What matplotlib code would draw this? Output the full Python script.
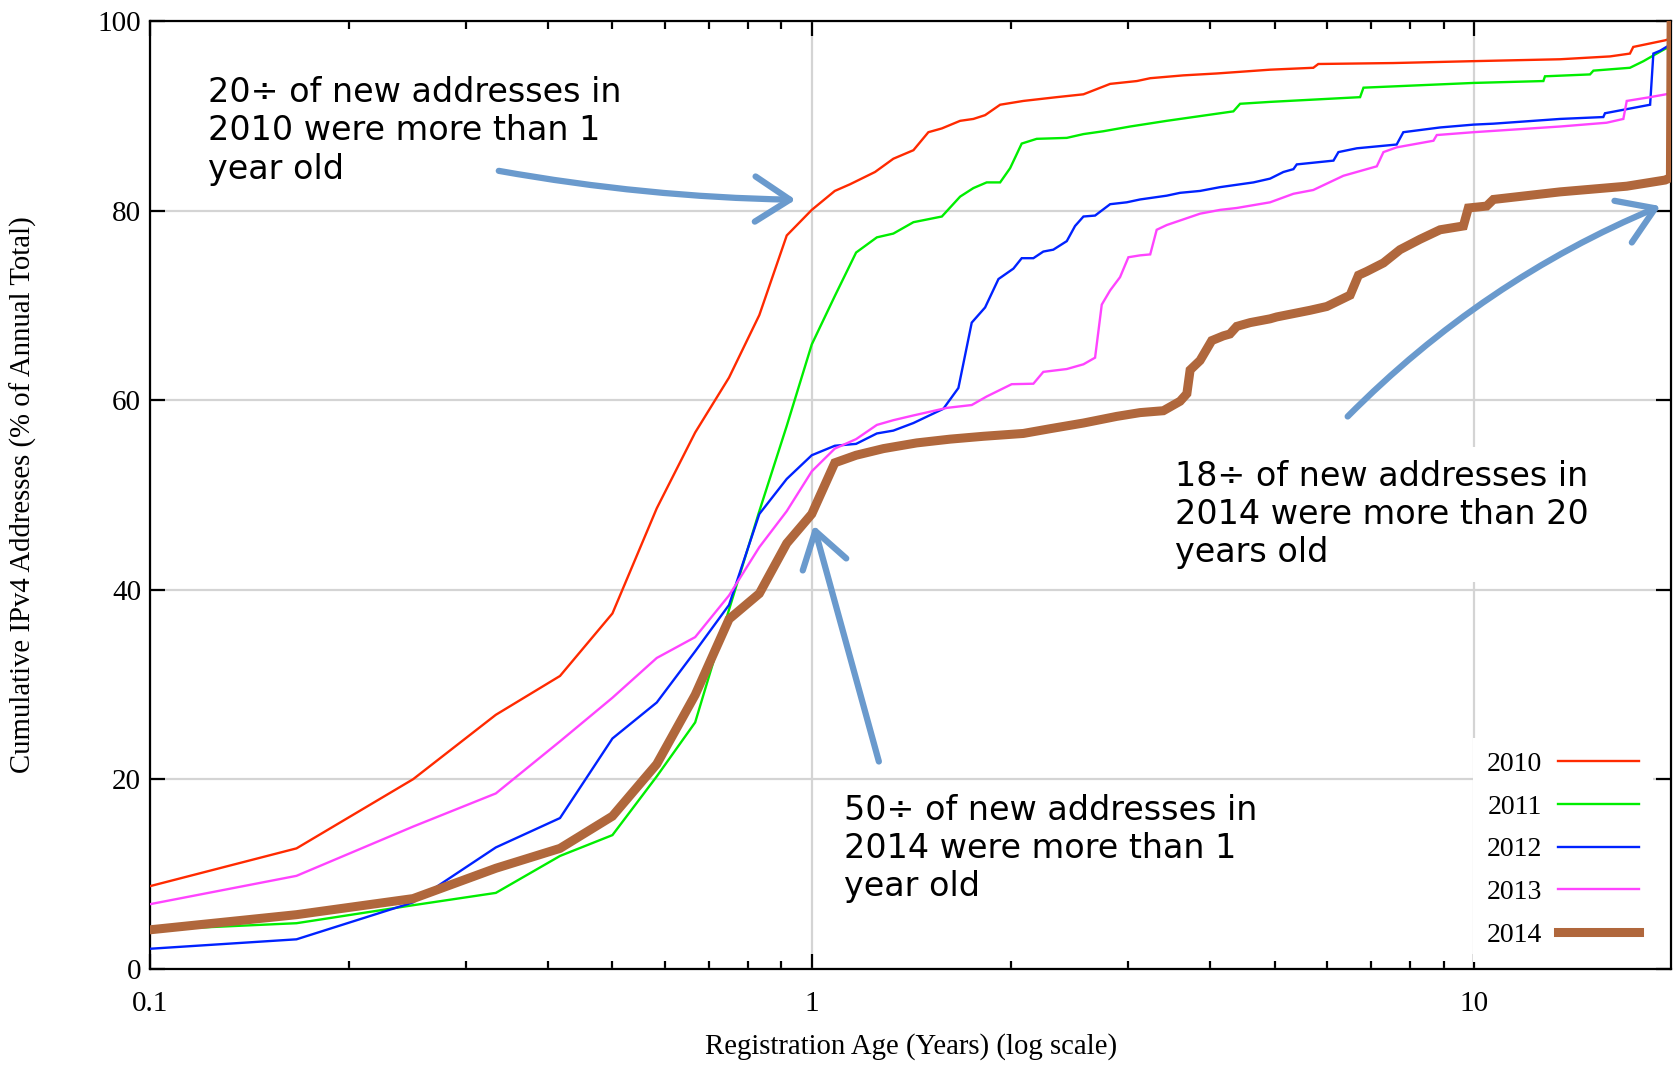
import matplotlib
matplotlib.use("Agg")
import matplotlib.pyplot as plt
from matplotlib.ticker import LogLocator, NullFormatter, FixedLocator

# ---------------- data (registration age in years, cumulative %) ----------------
m = [k / 12 for k in range(2, 15)]  # monthly steps 2/12 .. 14/12

x2010 = [0.1] + m[:12] + [1.142, 1.246, 1.328, 1.424, 1.500, 1.572, 1.675, 1.754, 1.827,
                          1.925, 2.087, 2.344, 2.572, 2.822, 3.097, 3.244, 3.641, 4.089,
                          4.922, 5.72, 5.82, 7.554, 9.98, 13.49, 16.05, 17.2, 17.4, 19.44, 19.85]
y2010 = [8.7, 12.7, 20.0, 26.8, 30.9, 37.5, 48.6, 56.6, 62.4, 69.0, 77.4, 80.1, 82.1,
         82.8, 84.1, 85.5, 86.4, 88.3, 88.7, 89.5, 89.7, 90.1, 91.2, 91.6, 92.0, 92.3, 93.4,
         93.7, 94.0, 94.3, 94.5, 94.9, 95.1, 95.5, 95.6, 95.8, 96.0, 96.3, 96.6, 97.3, 98.0, 98.2]

x2011 = [0.1] + m + [1.254, 1.328, 1.424, 1.572, 1.675, 1.754, 1.837, 1.925, 1.993, 2.075,
                     2.186, 2.427, 2.572, 2.756, 3.025, 3.436, 3.858, 4.136, 4.332, 4.434,
                     4.922, 6.73, 6.81, 9.98, 12.73, 12.80, 14.97, 15.15, 17.2, 18.03, 18.66,
                     19.44, 19.85]
y2011 = [4.1, 4.8, 6.7, 8.0, 11.9, 14.1, 20.3, 26.0, 37.9, 48.3, 57.3, 65.9, 71.0, 75.6,
         77.2, 77.6, 78.8, 79.4, 81.5, 82.4, 83.0, 83.0, 84.5, 87.1, 87.6, 87.7, 88.1, 88.4,
         88.9, 89.5, 90.0, 90.3, 90.5, 91.3, 91.5, 92.0, 93.0, 93.5, 93.7, 94.2, 94.4, 94.8,
         95.1, 95.8, 96.4, 97.1, 97.3]

x2012 = [0.1] + m + [1.254, 1.328, 1.424, 1.58, 1.665, 1.744, 1.827, 1.914, 2.016, 2.075,
                     2.161, 2.237, 2.316, 2.427, 2.498, 2.572, 2.678, 2.822, 2.99, 3.132,
                     3.436, 3.599, 3.858, 4.136, 4.332, 4.645, 4.922, 5.155, 5.338, 5.4,
                     6.135, 6.242, 6.653, 7.643, 7.822, 8.888, 9.98, 10.70, 13.49, 15.68,
                     15.77, 18.45, 18.66, 19.1, 19.85]
y2012 = [2.1, 3.1, 7.0, 12.8, 15.9, 24.3, 28.1, 33.5, 38.4, 48.0, 51.7, 54.2, 55.2, 55.4,
         56.5, 56.8, 57.6, 59.1, 61.3, 68.2, 69.8, 72.8, 73.9, 75.0, 75.0, 75.7, 75.9, 76.8,
         78.4, 79.4, 79.5, 80.7, 80.9, 81.2, 81.6, 81.9, 82.1, 82.5, 82.7, 83.0, 83.4, 84.1,
         84.4, 84.9, 85.3, 86.2, 86.6, 87.0, 88.3, 88.8, 89.1, 89.2, 89.7, 89.9, 90.3, 91.2,
         96.6, 96.9, 97.6]

x2013 = [0.1] + m + [1.254, 1.328, 1.424, 1.6, 1.744, 1.837, 2.004, 2.161, 2.237, 2.427,
                     2.572, 2.678, 2.741, 2.822, 2.921, 3.007, 3.132, 3.244, 3.318, 3.436,
                     3.641, 3.858, 4.136, 4.383, 4.922, 5.338, 5.72, 6.35, 7.133, 7.30,
                     7.643, 8.686, 8.787, 9.98, 13.49, 15.86, 16.81, 17.01, 18.45, 19.85]
y2013 = [6.8, 9.8, 15.0, 18.5, 24.0, 28.6, 32.8, 35.0, 39.4, 44.5, 48.3, 52.5, 54.9, 55.9,
         57.4, 57.9, 58.4, 59.2, 59.5, 60.4, 61.7, 61.75, 63.0, 63.3, 63.8, 64.5, 70.1, 71.6,
         73.0, 75.1, 75.3, 75.4, 78.0, 78.5, 79.1, 79.7, 80.1, 80.3, 80.9, 81.8, 82.2, 83.7,
         84.7, 86.2, 86.7, 87.4, 88.0, 88.3, 88.9, 89.3, 89.7, 91.6, 92.0, 92.4]

x2014 = [0.1] + m + [1.283, 1.44, 1.618, 1.816, 2.087, 2.29, 2.572, 2.887, 3.132, 3.396,
                     3.599, 3.685, 3.727, 3.858, 4.018, 4.183, 4.28, 4.383, 4.592, 4.922,
                     5.037, 5.655, 5.994, 6.501, 6.692, 6.887, 7.30, 7.733, 8.291, 8.888,
                     9.638, 9.806, 10.45, 10.70, 13.49, 17.01, 19.44, 19.8, 19.85]
y2014 = [4.1, 5.7, 7.4, 10.6, 12.7, 16.1, 21.6, 28.9, 36.9, 39.6, 44.9, 48.0, 53.4, 54.2,
         54.9, 55.5, 55.9, 56.2, 56.5, 57.0, 57.6, 58.3, 58.7, 58.9, 59.9, 60.7, 63.2, 64.2,
         66.3, 66.8, 67.0, 67.8, 68.2, 68.6, 68.8, 69.5, 69.9, 71.1, 73.2, 73.6, 74.5, 75.9,
         77.0, 78.0, 78.4, 80.3, 80.5, 81.2, 82.0, 82.6, 83.25, 83.5, 100.0]

series = [
    ("2010", x2010, y2010, "#ff2a00", 1.7),
    ("2011", x2011, y2011, "#00ee00", 1.7),
    ("2012", x2012, y2012, "#0022ff", 1.7),
    ("2013", x2013, y2013, "#ff44ff", 1.7),
    ("2014", x2014, y2014, "#b0673c", 6.5),
]
for _, xs, ys, _, _ in series:
    assert len(xs) == len(ys), (len(xs), len(ys))

xticks = [0.1, 1, 10]
xticklabels = ["0.1", "1", "10"]
yticks = [0, 20, 40, 60, 80, 100]

notes = [
    "20\u00f7 of new addresses in\n2010 were more than 1\nyear old",
    "50\u00f7 of new addresses in\n2014 were more than 1\nyear old",
    "18\u00f7 of new addresses in\n2014 were more than 20\nyears old",
]

# ---------------- figure ----------------
serif = "Liberation Serif"
fig = plt.figure(figsize=(16.75, 10.9), dpi=100)
ax = fig.add_axes([0.0893, 0.1113, 0.9084, 0.8691])
ax.set_xscale("log")
ax.set_xlim(0.1, 19.85)
ax.set_ylim(0, 100)

ax.xaxis.set_major_locator(FixedLocator(xticks))
ax.set_xticklabels(xticklabels)
ax.xaxis.set_minor_locator(LogLocator(base=10, subs=range(2, 10)))
ax.xaxis.set_minor_formatter(NullFormatter())
ax.set_yticks(yticks)

for lab in ax.get_xticklabels() + ax.get_yticklabels():
    lab.set_fontfamily(serif)
ax.tick_params(which="both", direction="in", top=True, right=True, width=1.6, colors="black")
ax.tick_params(which="major", length=11)
ax.tick_params(which="minor", length=6)
ax.tick_params(axis="x", pad=16, labelsize=21)
ax.tick_params(axis="y", pad=6, labelsize=21)
for sp in ax.spines.values():
    sp.set_linewidth(1.6)

ax.grid(True, which="major", color="#d4d4d4", lw=1.6, zorder=0)
ax.set_axisbelow(True)

handles = []
for name, xs, ys, col, lw in series:
    h, = ax.plot(xs, ys, color=col, lw=lw, label=name, zorder=5,
                 solid_joinstyle="miter", clip_on=True)
    handles.append(h)

ax.set_xlabel("Registration Age (Years) (log scale)", fontfamily=serif, fontsize=20.7)
ax.set_ylabel("Cumulative IPv4 Addresses (% of Annual Total)", fontfamily=serif, fontsize=20.7)
ax.xaxis.set_label_coords(0.5005, -0.068)
ax.yaxis.set_label_coords(-0.074, 0.5)

leg = ax.legend(handles=handles, loc="lower right", bbox_to_anchor=(0.988, 0.0075),
                markerfirst=False, frameon=True, fancybox=False, facecolor="white",
                edgecolor="none", framealpha=1, handlelength=2.9, handletextpad=0.6,
                labelspacing=0.62, borderpad=0.5, borderaxespad=0,
                prop={"family": serif, "size": 20})
leg.set_zorder(6)

# ---------------- annotations ----------------
note_font = dict(family="DejaVu Sans", size=24)
box = dict(facecolor="white", edgecolor="none", pad=9)
note_pos = [(0.124, 0.930), (0.504, 0.2718), (0.7015, 0.5784)]
for txt, (px, py) in zip(notes, note_pos):
    ax.text(px, py, txt, transform=fig.transFigure, ha="left", va="top",
            linespacing=1.2, fontdict=note_font, bbox=box, zorder=3, clip_on=False)

arrow_col = "#6a9acd"
def arrow(tail, head, rad):
    ax.annotate("", xy=head, xycoords="axes fraction", xytext=tail,
                textcoords="axes fraction", zorder=7,
                arrowprops=dict(arrowstyle="->,head_length=1.0,head_width=0.65",
                                color=arrow_col, lw=4.5, mutation_scale=25,
                                connectionstyle=f"arc3,rad={rad}",
                                shrinkA=0, shrinkB=0, capstyle="round",
                                joinstyle="round"))

arrow((0.2295, 0.8422), (0.4246, 0.8117), 0.04)
arrow((0.4793, 0.2187), (0.4365, 0.4679), 0.0)
arrow((0.7874, 0.5829), (0.9930, 0.8050), -0.1)

fig.savefig("out.png", dpi=100)
